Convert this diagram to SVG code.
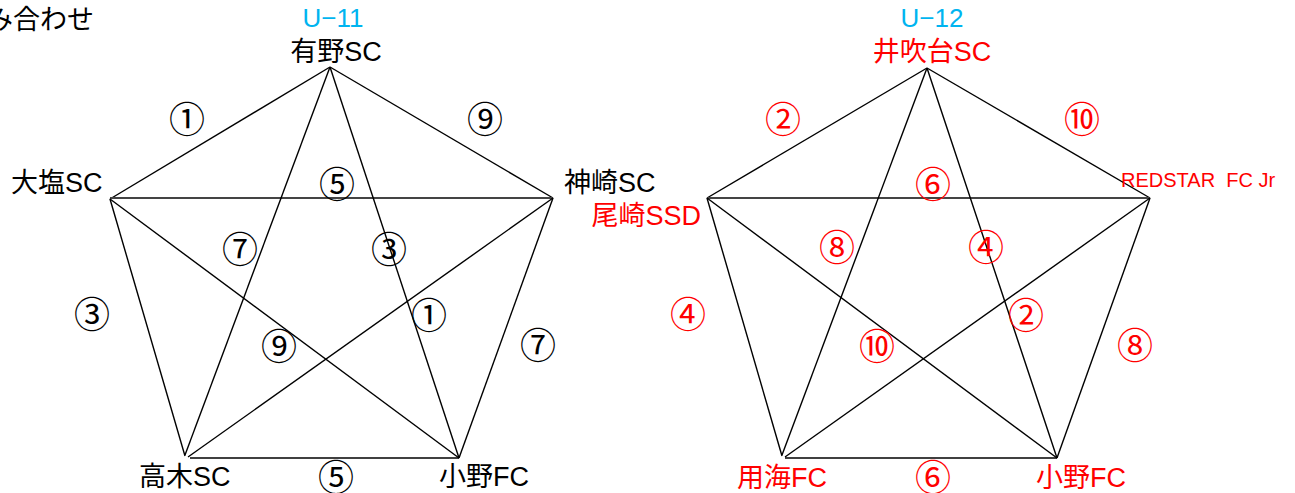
<svg xmlns="http://www.w3.org/2000/svg" width="1295" height="493" viewBox="0 0 1295 493">
<style>
.t{font-family:"Liberation Sans","Noto Sans CJK JP",sans-serif;font-size:27px;fill:#000}
.r{fill:#ff0000}
.u{fill:#00b4f0;font-size:26px}
.n{font-family:"Noto Sans CJK JP",sans-serif;font-size:36px;text-anchor:middle;dominant-baseline:central;fill:#000}
.nr{fill:#ff0000}
.e{stroke:#000;stroke-width:1.4;fill:none}
.h{stroke:#444;stroke-width:2;fill:none}
</style>
<rect width="1295" height="493" fill="#fff"/>
<text class="t" x="-14" y="29" style="font-size:27px">み合わせ</text>
<g id="connectors">
<line class="e" x1="330" y1="67" x2="110" y2="199"/>
<line class="e" x1="330" y1="67" x2="553" y2="198"/>
<line class="h" x1="110" y1="198" x2="553" y2="198"/>
<line class="e" x1="110" y1="199" x2="185" y2="456"/>
<line class="e" x1="553" y1="198" x2="459" y2="458"/>
<line class="e" x1="190" y1="458" x2="459" y2="458"/>
<line class="e" x1="330" y1="67" x2="185" y2="455"/>
<line class="e" x1="330" y1="67" x2="459" y2="458"/>
<line class="e" x1="110" y1="199" x2="459" y2="458"/>
<line class="e" x1="553" y1="198" x2="188" y2="457"/>
<line class="e" x1="927" y1="68" x2="707" y2="198"/>
<line class="e" x1="927" y1="68" x2="1150" y2="198"/>
<line class="h" x1="707" y1="198" x2="1150" y2="198"/>
<line class="e" x1="707" y1="198" x2="782" y2="456"/>
<line class="e" x1="1150" y1="198" x2="1057" y2="458"/>
<line class="e" x1="785" y1="458" x2="1057" y2="458"/>
<line class="e" x1="927" y1="68" x2="782" y2="455"/>
<line class="e" x1="927" y1="68" x2="1057" y2="458"/>
<line class="e" x1="707" y1="198" x2="1057" y2="458"/>
<line class="e" x1="1150" y1="198" x2="785" y2="457"/>
</g>
<g id="title-u11"><text class="t u" x="333" y="27" text-anchor="middle">U−11</text></g>
<g id="title-u12"><text class="t u" x="932" y="27" text-anchor="middle">U−12</text></g>
<g id="node-arino"><text class="t" x="336" y="61" text-anchor="middle">有野SC</text></g>
<g id="node-oshio"><text class="t" x="11" y="192">大塩SC</text></g>
<g id="node-kanzaki"><text class="t" x="564" y="192">神崎SC</text></g>
<g id="node-takagi"><text class="t" x="139" y="486">高木SC</text></g>
<g id="node-ono-l"><text class="t" x="439" y="486">小野FC</text></g>
<g id="node-ibukidai"><text class="t r" x="932" y="61" text-anchor="middle">井吹台SC</text></g>
<g id="node-ozaki"><text class="t r" x="701" y="225" text-anchor="end">尾崎SSD</text></g>
<g id="node-redstar"><text class="t r" x="1121" y="187" style="font-size:20px" xml:space="preserve">REDSTAR  FC Jr</text></g>
<g id="node-youkai"><text class="t r" x="737" y="487">用海FC</text></g>
<g id="node-ono-r"><text class="t r" x="1036" y="487">小野FC</text></g>
<g id="labels-u11">
<text class="n" x="187" y="117">①</text>
<text class="n" x="485" y="117">⑨</text>
<text class="n" x="337" y="182">⑤</text>
<text class="n" x="240" y="247">⑦</text>
<text class="n" x="389" y="247">③</text>
<text class="n" x="92" y="312">③</text>
<text class="n" x="429" y="313">①</text>
<text class="n" x="538" y="343">⑦</text>
<text class="n" x="279" y="344">⑨</text>
<text class="n" x="336" y="475">⑤</text>
</g>
<g id="labels-u12">
<text class="n nr" x="783" y="117">②</text>
<text class="n nr" x="1082" y="117">⑩</text>
<text class="n nr" x="933" y="182">⑥</text>
<text class="n nr" x="837" y="245">⑧</text>
<text class="n nr" x="986" y="245">④</text>
<text class="n nr" x="688" y="312">④</text>
<text class="n nr" x="1026" y="313">②</text>
<text class="n nr" x="1135" y="343">⑧</text>
<text class="n nr" x="877" y="344">⑩</text>
<text class="n nr" x="933" y="475">⑥</text>
</g>
</svg>
